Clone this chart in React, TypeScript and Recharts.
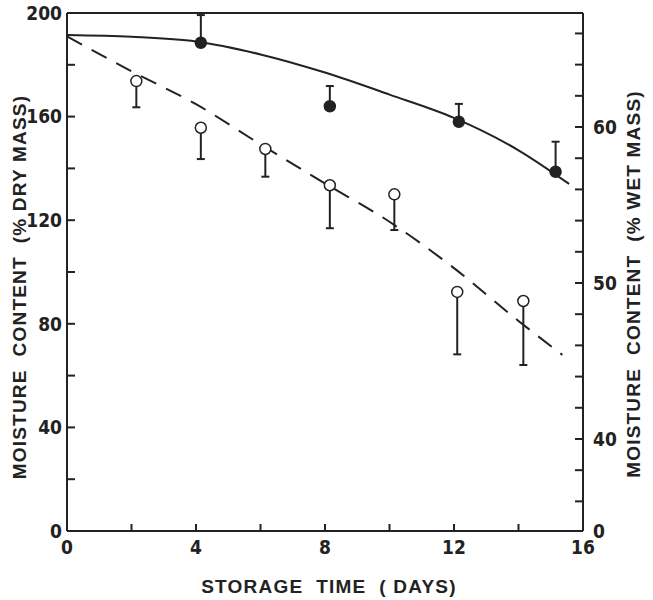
import React from 'react';
import {
  ComposedChart,
  Line,
  Scatter,
  ErrorBar,
  XAxis,
  YAxis,
  ReferenceLine,
  Label,
} from 'recharts';

// storage time (days) on the x axis
const dayTicks = [0, 2, 4, 6, 8, 10, 12, 14, 16];
const dayLabels = ['0', '', '4', '', '8', '', '12', '', '16'];

// left axis: % dry mass
const dryTicks = [0, 20, 40, 60, 80, 100, 120, 140, 160, 180, 200];
const dryLabels = ['0', '', '40', '', '80', '', '120', '', '160', '', '200'];

// right axis: % wet mass (broken axis, bottom marked 0)
const wetDomain = [34.1, 67.31];
const wetTicks = [34.1, 36, 38, 40, 42, 44, 46, 48, 50, 52, 54, 56, 58, 60, 62, 64, 66];
const wetLabels = ['0', '', '', '40', '', '', '', '', '50', '', '', '', '', '60', '', '', ''];

// filled circles (error bar upwards)
const filledDays = [4.15, 8.15, 12.15, 15.15];
const filledMoisture = [188.5, 164, 158, 138.7];
const filledErrUp = [10.7, 7.8, 6.9, 11.6];

// open circles (error bar downwards)
const openDays = [2.15, 4.15, 6.15, 8.15, 10.15, 12.1, 14.15];
const openMoisture = [173.7, 155.7, 147.5, 133.5, 130, 92.3, 88.8];
const openErrDown = [10.1, 12.1, 10.7, 16.6, 13.8, 24.1, 24.7];

// fitted curves
const solidDays = [0, 2, 4, 6, 8, 10, 12, 14, 15.57];
const solidMoisture = [191.5, 190.8, 189, 184, 177, 168.5, 159.5, 147, 134];
const dashedDays = [0, 2, 4, 6, 8, 10, 12, 14, 15.36];
const dashedMoisture = [191, 177.5, 164.8, 149.3, 134.2, 119.4, 101.5, 81.1, 68];

const filledData = filledDays.map((d, i) => ({
  day: d,
  moisture: filledMoisture[i],
  err: [0, filledErrUp[i]],
}));
const openData = openDays.map((d, i) => ({
  day: d,
  moisture: openMoisture[i],
  err: [openErrDown[i], 0],
}));
const solidData = solidDays.map((d, i) => ({ day: d, moisture: solidMoisture[i] }));
const dashedData = dashedDays.map((d, i) => ({ day: d, moisture: dashedMoisture[i] }));

const INK = '#222';
const tickFont = "'Liberation Sans Narrow', 'DejaVu Sans Condensed', 'Liberation Sans', Arial, sans-serif";
const titleFont = "'Liberation Sans', Arial, sans-serif";

const labelOf = (ticks: number[], labels: string[], v: number) => labels[ticks.indexOf(v)] ?? '';

const LeftTick = (props: any) => {
  const { x, y, payload } = props;
  const text = labelOf(dryTicks, dryLabels, payload.value);
  return (
    <g>
      <line x1={x} x2={x + 8} y1={y} y2={y} stroke={INK} strokeWidth={2} />
      {text && (
        <text x={x - 5} y={y} dy="0.36em" textAnchor="end" fill={INK}
          fontFamily={tickFont} fontWeight="bold" fontSize={19}>
          {text}
        </text>
      )}
    </g>
  );
};

const RightTick = (props: any) => {
  const { x, y, payload } = props;
  const text = labelOf(wetTicks, wetLabels, payload.value);
  return (
    <g>
      <line x1={x - 8} x2={x} y1={y} y2={y} stroke={INK} strokeWidth={2} />
      {text && (
        <text x={x + 10} y={y} dy="0.36em" textAnchor="start" fill={INK}
          fontFamily={tickFont} fontWeight="bold" fontSize={19}>
          {text}
        </text>
      )}
    </g>
  );
};

const BottomTick = (props: any) => {
  const { x, y, payload } = props;
  const text = labelOf(dayTicks, dayLabels, payload.value);
  return (
    <g>
      <line x1={x} x2={x} y1={y - 7} y2={y} stroke={INK} strokeWidth={2} />
      {text && (
        <text x={x} y={y + 16} dy="0.36em" textAnchor="middle" fill={INK}
          fontFamily={tickFont} fontWeight="bold" fontSize={19}>
          {text}
        </text>
      )}
    </g>
  );
};

const title = (text: string, x: number, y: number, angle: number) => () => (
  <text
    x={x}
    y={y}
    dy="0.36em"
    textAnchor="middle"
    transform={angle ? `rotate(${angle}, ${x}, ${y})` : undefined}
    fill={INK}
    fontFamily={titleFont}
    fontWeight="bold"
    fontSize={19}
    letterSpacing={1.2}
    style={{ whiteSpace: 'pre' }}
  >
    {text}
  </text>
);

const Dot = (fill: string) => (props: any) => {
  const { cx, cy } = props;
  return <circle cx={cx} cy={cy} r={5.5} fill={fill} stroke={INK} strokeWidth={1.5} />;
};

export default function App() {
  return (
    <div style={{ position: 'absolute', left: 0, top: 0, background: '#fff' }}>
      <ComposedChart
        width={653}
        height={600}
        margin={{ top: 13, right: 0, bottom: 0, left: 0 }}
      >
        <XAxis
          dataKey="day"
          type="number"
          domain={[0, 16]}
          ticks={dayTicks}
          interval={0}
          height={69}
          tickSize={0}
          tickMargin={0}
          tickLine={false}
          tick={<BottomTick />}
          axisLine={{ stroke: INK, strokeWidth: 2 }}
          allowDataOverflow
        >
          <Label content={title('STORAGE  TIME  ( DAYS)', 329, 586, 0)} />
        </XAxis>
        <YAxis
          yAxisId="left"
          orientation="left"
          type="number"
          domain={[0, 200]}
          ticks={dryTicks}
          interval={0}
          width={67}
          tickSize={0}
          tickMargin={0}
          tickLine={false}
          tick={<LeftTick />}
          axisLine={{ stroke: INK, strokeWidth: 2 }}
          allowDataOverflow
        >
          <Label content={title('MOISTURE  CONTENT  (% DRY MASS)', 19, 287, -90)} />
        </YAxis>
        <YAxis
          yAxisId="right"
          orientation="right"
          type="number"
          domain={wetDomain}
          ticks={wetTicks}
          interval={0}
          width={70}
          tickSize={0}
          tickMargin={0}
          tickLine={false}
          tick={<RightTick />}
          axisLine={{ stroke: INK, strokeWidth: 2 }}
          allowDataOverflow
        >
          <Label content={title('MOISTURE  CONTENT  (% WET MASS)', 633, 284, -90)} />
        </YAxis>
        <ReferenceLine yAxisId="left" y={200} stroke={INK} strokeWidth={2} />
        <Line
          yAxisId="left"
          data={solidData}
          dataKey="moisture"
          type="monotone"
          stroke={INK}
          strokeWidth={2}
          dot={false}
          activeDot={false}
          isAnimationActive={false}
        />
        <Line
          yAxisId="left"
          data={dashedData}
          dataKey="moisture"
          type="monotone"
          stroke={INK}
          strokeWidth={2}
          strokeDasharray="17 11"
          dot={false}
          activeDot={false}
          isAnimationActive={false}
        />
        <Scatter
          yAxisId="left"
          data={filledData}
          dataKey="moisture"
          shape={Dot(INK)}
          isAnimationActive={false}
        >
          <ErrorBar dataKey="err" direction="y" width={4} stroke={INK} strokeWidth={2} isAnimationActive={false} />
        </Scatter>
        <Scatter
          yAxisId="left"
          data={openData}
          dataKey="moisture"
          shape={Dot('#fff')}
          isAnimationActive={false}
        >
          <ErrorBar dataKey="err" direction="y" width={4} stroke={INK} strokeWidth={2} isAnimationActive={false} />
        </Scatter>
      </ComposedChart>
    </div>
  );
}
